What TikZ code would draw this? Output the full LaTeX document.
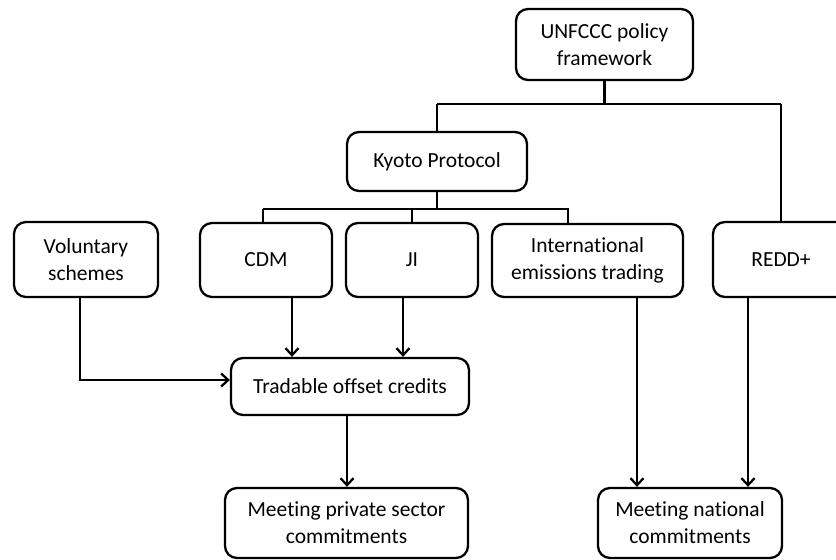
\documentclass[tikz,border=0pt]{standalone}
\usepackage{fontspec}
\setmainfont[Ligatures=NoCommon]{Carlito}
\usetikzlibrary{arrows.meta}

\begin{document}
\begin{tikzpicture}[
  x=1pt, y=-1pt,
  line width=2.3pt,
  every node/.style={draw,rounded corners=12pt,align=center,inner sep=0pt,
    font=\fontsize{21.5}{27}\selectfont},
  arr/.style={-{Straight Barb[length=7pt,width=13pt]}},
]
  \useasboundingbox (0,0) rectangle (836,560);
  \node[minimum width=177pt,minimum height=71pt] (unfccc) at (604.5,44.5) {UNFCCC policy\\framework};
  \node[minimum width=180pt,minimum height=59pt] (kyoto) at (437,161.5) {Kyoto Protocol};
  \node[minimum width=144pt,minimum height=75pt] (vol) at (86,259.5) {Voluntary\\schemes};
  \node[minimum width=132pt,minimum height=74pt] (cdm) at (266,260) {CDM};
  \node[minimum width=132pt,minimum height=74pt] (ji) at (412,260) {JI};
  \node[minimum width=191pt,minimum height=73pt] (iet) at (587.5,260.5) {International\\emissions trading};
  \node[minimum width=136pt,minimum height=75pt] (redd) at (781,259.5) {REDD+};
  \node[minimum width=238pt,minimum height=57pt] (trade) at (350,386.5) {Tradable offset credits};
  \node[minimum width=243pt,minimum height=70pt] (priv) at (346.5,523) {Meeting private sector\\commitments};
  \node[minimum width=184pt,minimum height=70pt] (natl) at (690,523) {Meeting national\\commitments};

  % framework branches
  \draw (unfccc.south) -- ++(0,23) coordinate (bus1);
  \draw (bus1 -| kyoto.north) -- (bus1 -| redd.north);
  \draw (bus1 -| kyoto.north) -- (kyoto.north);
  \draw (bus1 -| redd.north) -- (redd.north);

  % kyoto mechanisms
  \draw (kyoto.south) -- ++(0,17) coordinate (bus2);
  \draw ([xshift=-3pt]cdm.north |- bus2) -- ([xshift=-3pt]cdm.north);
  \draw ([xshift=-3pt]cdm.north |- bus2) -- ([xshift=-19.5pt]iet.north |- bus2) -- ([xshift=-19.5pt]iet.north);
  \draw (ji.north |- bus2) -- (ji.north);

  % credits and commitments
  \draw[arr] ([xshift=-6pt]vol.south) |- ([yshift=6.5pt]trade.west);
  \draw[arr] ([xshift=26pt]cdm.south) -- ([xshift=26pt]cdm.south |- trade.north);
  \draw[arr] ([xshift=-9pt]ji.south) -- ([xshift=-9pt]ji.south |- trade.north);
  \draw[arr] ([xshift=-3pt]trade.south) -- ([xshift=-3pt]trade.south |- priv.north);
  \draw[arr] ([xshift=49.5pt]iet.south) -- ([xshift=49.5pt]iet.south |- natl.north);
  \draw[arr] ([xshift=-33pt]redd.south) -- ([xshift=-33pt]redd.south |- natl.north);
\end{tikzpicture}
\end{document}
